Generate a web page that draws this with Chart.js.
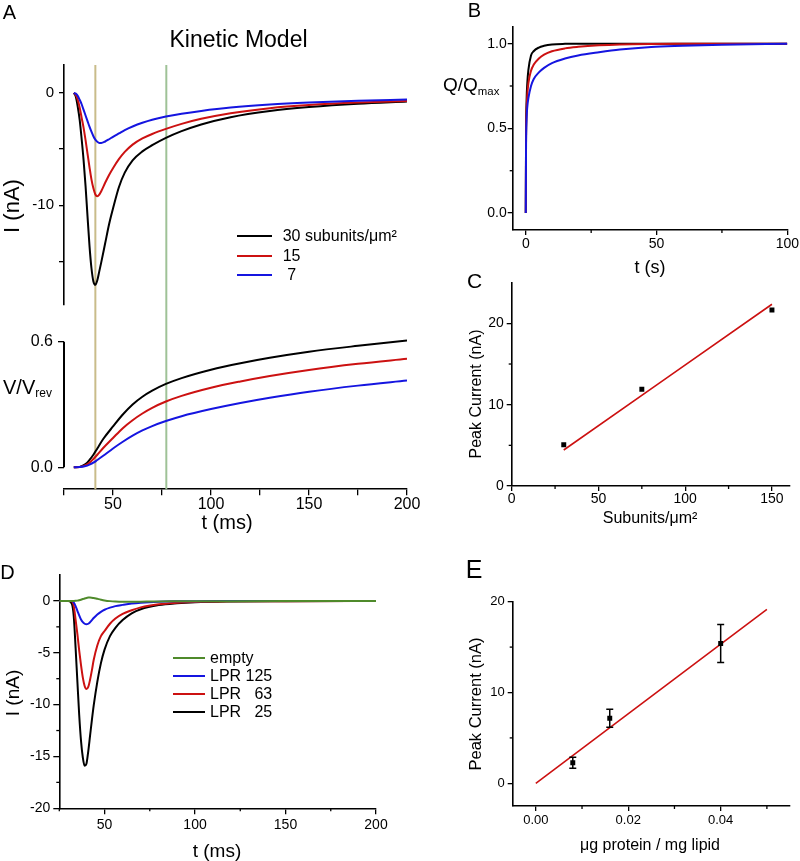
<!DOCTYPE html>
<html><head><meta charset="utf-8">
<script src="https://cdn.jsdelivr.net/npm/chart.js@4.4.0/dist/chart.umd.min.js"></script>
<style>
body{margin:0;width:800px;height:861px;position:relative;background:#fff;font-family:"Liberation Sans",Arial,sans-serif;overflow:hidden}
canvas{position:absolute;left:0;top:0}
.t{position:absolute;white-space:pre;color:#000;line-height:1;transform:translate(-50%,-50%)}
.l{position:absolute;white-space:pre;color:#000;line-height:1;transform:translateY(-50%)}
.r{position:absolute;white-space:pre;color:#000;line-height:1;transform:translate(-50%,-50%) rotate(-90deg)}
.sw{position:absolute;height:2px}
sub{font-size:0.6em;vertical-align:-0.3em}
</style></head><body>
<canvas id="cA1" width="800" height="861"></canvas>
<canvas id="cA2" width="800" height="861"></canvas>
<canvas id="cB" width="800" height="861"></canvas>
<canvas id="cC" width="800" height="861"></canvas>
<canvas id="cD" width="800" height="861"></canvas>
<canvas id="cE" width="800" height="861"></canvas>

<div class="t" style="left:9.5px;top:11.5px;font-size:20px">A</div>
<div class="t" style="left:474.5px;top:10px;font-size:20px">B</div>
<div class="t" style="left:474.5px;top:280px;font-size:21px">C</div>
<div class="t" style="left:7.5px;top:572px;font-size:20px">D</div>
<div class="t" style="left:474px;top:569px;font-size:25px">E</div>

<div class="t" style="left:238.5px;top:39px;font-size:23px">Kinetic Model</div>
<div class="r" style="left:12px;top:206px;font-size:22px">I (nA)</div>
<div class="l" style="left:3px;top:388px;font-size:20px">V/V<sub>rev</sub></div>
<div class="t" style="left:227px;top:522px;font-size:20px">t (ms)</div>

<div class="sw" style="left:237px;top:235px;width:35px;background:#000"></div>
<div class="sw" style="left:237px;top:255px;width:35px;background:#cc1111"></div>
<div class="sw" style="left:237px;top:274px;width:35px;background:#1515e0"></div>
<div class="l" style="left:282.7px;top:236px;font-size:16px">30 subunits/μm²</div>
<div class="l" style="left:282.7px;top:256px;font-size:16px">15</div>
<div class="l" style="left:282.7px;top:275px;font-size:16px"> 7</div>

<div class="l" style="left:443px;top:86px;font-size:19px">Q/Q<sub>max</sub></div>
<div class="t" style="left:650px;top:267px;font-size:18px">t (s)</div>

<div class="r" style="left:475.5px;top:394px;font-size:16px">Peak Current (nA)</div>
<div class="t" style="left:650px;top:518px;font-size:16px">Subunits/μm²</div>

<div class="r" style="left:12px;top:693px;font-size:19px">I (nA)</div>
<div class="t" style="left:217px;top:850px;font-size:19px">t (ms)</div>
<div class="sw" style="left:173px;top:657px;width:32px;background:#4f8a2b"></div>
<div class="sw" style="left:173px;top:675px;width:32px;background:#1515e0"></div>
<div class="sw" style="left:173px;top:693px;width:32px;background:#cc1111"></div>
<div class="sw" style="left:173px;top:711px;width:32px;background:#000"></div>
<div class="l" style="left:210px;top:658px;font-size:16px">empty</div>
<div class="l" style="left:210px;top:676px;font-size:16px">LPR 125</div>
<div class="l" style="left:210px;top:694px;font-size:16px">LPR   63</div>
<div class="l" style="left:210px;top:712px;font-size:16px">LPR   25</div>

<div class="r" style="left:475px;top:704px;font-size:16.5px">Peak Current (nA)</div>
<div class="t" style="left:650px;top:845px;font-size:16px">μg protein / mg lipid</div>

<script>
// ---------- DATA ----------
// Panel A (top): current I (nA) vs t (ms)
const tA = [30,31,32,33,34,35,36,37,38,39,40,41,42,43,44,46,48,50,53,56,60,65,70,77,85,95,110,130,150,175,200];
const aI30 = [0,-0.3,-1.2,-2.4,-4.1,-6.0,-8.3,-11.0,-13.6,-15.6,-16.8,-17.1,-16.7,-15.9,-15.1,-13.4,-11.7,-10.3,-8.4,-7.1,-6.0,-5.2,-4.65,-4.0,-3.4,-2.8,-2.15,-1.6,-1.25,-0.95,-0.76];
const aI15 = [0,-0.15,-0.6,-1.3,-2.2,-3.1,-4.2,-5.4,-6.6,-7.7,-8.5,-9.05,-9.2,-9.05,-8.75,-8.0,-7.3,-6.7,-5.9,-5.25,-4.6,-4.05,-3.65,-3.2,-2.75,-2.3,-1.8,-1.35,-1.07,-0.85,-0.71];
const aI7  = [0,-0.05,-0.25,-0.6,-1.0,-1.5,-2.0,-2.5,-3.0,-3.45,-3.85,-4.15,-4.35,-4.45,-4.45,-4.32,-4.12,-3.9,-3.6,-3.3,-2.98,-2.65,-2.38,-2.1,-1.85,-1.6,-1.3,-1.03,-0.85,-0.69,-0.58];
// Panel A (bottom): V/Vrev vs t (ms)
const tV = [30,33,36,38,40,42,45,50,55,60,65,70,77,85,100,115,130,150,175,200];
const aV30 = [0,0.002,0.015,0.035,0.06,0.09,0.135,0.195,0.252,0.30,0.337,0.366,0.398,0.426,0.466,0.497,0.523,0.552,0.58,0.605];
const aV15 = [0,0.001,0.01,0.022,0.04,0.06,0.092,0.14,0.187,0.225,0.257,0.284,0.314,0.341,0.38,0.41,0.436,0.465,0.494,0.518];
const aV7  = [0,0.001,0.006,0.013,0.022,0.035,0.055,0.09,0.122,0.151,0.176,0.197,0.221,0.244,0.278,0.307,0.332,0.361,0.39,0.414];
const markerT = [41, 77.2];
// Panel B: Q/Qmax vs t (s)
const tB = [0,0.1,0.3,0.6,1,2,3,5,7,10,15,20,28,36,48,60,75,100];
const bQ30 = [0,0.45,0.66,0.77,0.845,0.93,0.955,0.977,0.987,0.995,0.999,1,1,1,1,1,1,1];
const bQ15 = [0,0.42,0.6,0.7,0.767,0.84,0.875,0.912,0.935,0.955,0.972,0.981,0.99,0.995,0.998,0.999,1,1];
const bQ7  = [0,0.38,0.55,0.63,0.678,0.75,0.79,0.83,0.857,0.885,0.912,0.93,0.949,0.965,0.98,0.987,0.994,1];
// Panel C: peak current vs subunit density
const cX = [30,75,150];
const cY = [5.08,11.9,21.65];
const cFitX = [30,150];
const cFitY = [4.43,22.35];
// Panel D: measured current traces
const tD = [25,30,32,33,34,35,36,37,38,39,40,41,42,43,44,46,48,50,53,56,60,65,70,80,90,100,120,150,200];
const dEmpty = [0,0,0,0,0.01,0.03,0.07,0.12,0.18,0.24,0.29,0.32,0.33,0.31,0.28,0.2,0.12,0.05,-0.02,-0.06,-0.08,-0.08,-0.07,-0.05,-0.04,-0.03,-0.02,-0.01,0];
const d125 = [0,0,-0.02,-0.15,-0.5,-0.95,-1.4,-1.8,-2.05,-2.2,-2.26,-2.2,-2.05,-1.85,-1.65,-1.3,-1.05,-0.85,-0.65,-0.5,-0.38,-0.25,-0.17,-0.08,-0.04,-0.02,-0.01,0,0];
const d63 = [0,0,-0.05,-0.5,-1.8,-3.2,-4.8,-6.2,-7.4,-8.2,-8.5,-8.3,-7.6,-6.7,-5.7,-4.3,-3.4,-2.9,-2.2,-1.7,-1.25,-0.9,-0.62,-0.32,-0.18,-0.1,-0.04,-0.02,0];
const d25 = [0,0,-0.3,-1.5,-4.5,-7.8,-11.0,-13.5,-15.1,-15.9,-15.7,-14.5,-13.0,-11.5,-10.1,-7.8,-6.0,-4.7,-3.4,-2.6,-1.85,-1.2,-0.8,-0.4,-0.22,-0.12,-0.05,-0.02,0];
// Panel E: peak current vs protein/lipid
const eX = [0.008,0.016,0.04];
const eY = [2.26,7.16,15.4];
const eErr = [0.6,1.0,2.1];
const eFitX = [0,0.05];
const eFitY = [0,19.15];
// Tick values & labels
const tickAx = [25,50,75,100,125,150,175,200];
const tickAxLbl = ['','50','','100','','150','','200'];
const tickA1y = [-15,-10,-5,0];
const tickA1yLbl = ['','-10','','0'];
const tickA2y = [0,0.6];
const tickA2yLbl = ['0.0','0.6'];
const tickBx = [0,25,50,75,100];
const tickBxLbl = ['0','','50','','100'];
const tickBy = [0,0.25,0.5,0.75,1.0];
const tickByLbl = ['0.0','','0.5','','1.0'];
const tickCx = [0,25,50,75,100,125,150];
const tickCxLbl = ['0','','50','','100','','150'];
const tickCy = [0,5,10,15,20];
const tickCyLbl = ['0','','10','','20'];
const tickDy = [-20,-17.5,-15,-12.5,-10,-7.5,-5,-2.5,0];
const tickDyLbl = ['-20','','-15','','-10','','-5','','0'];
const tickEx = [0,0.01,0.02,0.03,0.04,0.05];
const tickExLbl = ['0.00','','0.02','','0.04',''];
const tickEy = [0,5,10,15,20];
const tickEyLbl = ['0','','10','','20'];

// ---------- STYLE / HELPERS ----------
const FONT = '"Liberation Sans", Arial, sans-serif';
const BLACK = '#000000', RED = '#cc1111', BLUE = '#1515e0', GREEN = '#4f8a2b';
const MARK_COL = ['#c9bc8a', '#9fc297'];
const W = 800, H = 861;

function pts(xs, ys){ return xs.map((x,i)=>({x:x, y:ys[i]})); }
function curve(xs, ys, col, w){
  return {data:pts(xs,ys), borderColor:col, backgroundColor:col, borderWidth:w||2, showLine:true,
          pointRadius:0, cubicInterpolationMode:'monotone', fill:false};
}
function axis(o, horiz){
  return {
    type:'linear', min:o.min, max:o.max, display:o.display!==false,
    border:{display:o.border!==false, color:'#000', width:1.6},
    grid:{display:true, drawOnChartArea:false, drawTicks:true, tickLength:o.tl||5, color:'#000', lineWidth:1.3,
      tickColor:(ctx)=> (o.minor && !o.labels[ctx.index]) ? 'rgba(0,0,0,0)' : '#000'},
    ticks:{font:{family:FONT,size:o.fs||14}, color:'#000', padding:o.pad===undefined?2:o.pad, maxRotation:0, autoSkip:false,
      callback:(v)=>{const i=o.ticks.findIndex(t=>Math.abs(t-v)<1e-9); return i>=0?o.labels[i]:'';}},
    afterBuildTicks:s=>{s.ticks=o.ticks.map(v=>({value:v}));},
    afterFit:s=>{ if(horiz) s.height=o.size||0; else s.width=o.size||0; }
  };
}
function minorPlugin(xo, yo){
  return {id:'minor', afterDraw(c){
    const ctx=c.ctx; ctx.save(); ctx.strokeStyle='#000'; ctx.lineWidth=1.3;
    if(xo.minor && xo.display!==false){
      const s=c.scales.x;
      xo.ticks.forEach((v,i)=>{ if(!xo.labels[i]){ const p=s.getPixelForValue(v); ctx.beginPath(); ctx.moveTo(p,s.top); ctx.lineTo(p,s.top+xo.minor); ctx.stroke(); }});
    }
    if(yo.minor){
      const s=c.scales.y;
      yo.ticks.forEach((v,i)=>{ if(!yo.labels[i]){ const p=s.getPixelForValue(v); ctx.beginPath(); ctx.moveTo(s.right,p); ctx.lineTo(s.right-yo.minor,p); ctx.stroke(); }});
    }
    ctx.restore();
  }};
}
function mk(id, area, xo, yo, datasets, plugins){
  const yW = yo.display===false?0:yo.size, xH = xo.display===false?0:xo.size;
  return new Chart(document.getElementById(id), {
    type:'scatter',
    data:{datasets:datasets},
    options:{
      responsive:false, animation:false, events:[],
      layout:{autoPadding:false, padding:{left:area.l-yW, top:area.t, right:W-area.r, bottom:H-area.b-xH}},
      plugins:{legend:{display:false}, tooltip:{enabled:false}},
      scales:{x:axis(xo,true), y:axis(yo,false)}
    },
    plugins:(plugins||[]).concat([minorPlugin(xo,yo)])
  });
}
const vlines = {id:'vlines', beforeDatasetsDraw(c){
  const x=c.scales.x, a=c.chartArea, ctx=c.ctx;
  markerT.forEach((t,i)=>{
    const px=x.getPixelForValue(t);
    ctx.save(); ctx.strokeStyle=MARK_COL[i]; ctx.lineWidth=2;
    ctx.beginPath(); ctx.moveTo(px,a.top); ctx.lineTo(px,a.bottom); ctx.stroke(); ctx.restore();
  });
}};
const partialY = {id:'partialY', afterDraw(c){
  const y=c.scales.y, ctx=c.ctx, px=y.right;
  ctx.save(); ctx.strokeStyle='#000'; ctx.lineWidth=2;
  ctx.beginPath(); ctx.moveTo(px, y.getPixelForValue(tickA2y[0])); ctx.lineTo(px, y.getPixelForValue(tickA2y[tickA2y.length-1])); ctx.stroke();
  ctx.restore();
}};
const errBars = {id:'errBars', afterDatasetsDraw(c){
  const x=c.scales.x, y=c.scales.y, ctx=c.ctx;
  ctx.save(); ctx.strokeStyle='#000'; ctx.lineWidth=1.5;
  eX.forEach((v,i)=>{
    const px=x.getPixelForValue(v), y1=y.getPixelForValue(eY[i]-eErr[i]), y2=y.getPixelForValue(eY[i]+eErr[i]);
    ctx.beginPath(); ctx.moveTo(px,y1); ctx.lineTo(px,y2);
    ctx.moveTo(px-3.5,y1); ctx.lineTo(px+3.5,y1); ctx.moveTo(px-3.5,y2); ctx.lineTo(px+3.5,y2); ctx.stroke();
  });
  ctx.restore();
}};
function sq(xs, ys){ return {data:pts(xs,ys), showLine:false, pointStyle:'rect', pointRadius:3.5, backgroundColor:'#000', borderColor:'#000', borderWidth:0}; }

// ---------- CHARTS ----------
// A top
mk('cA1', {l:64,t:65,r:407,b:305},
  {min:25,max:200,ticks:tickAx,labels:tickAxLbl,display:false},
  {min:-18.9,max:2.5,ticks:tickA1y,labels:tickA1yLbl,fs:15,tl:5,pad:5,size:50},
  [curve(tA,aI7,BLUE), curve(tA,aI15,RED), curve(tA,aI30,BLACK)], [vlines]);
// A bottom
mk('cA2', {l:64,t:305,r:407,b:489.3},
  {min:25,max:200,ticks:tickAx,labels:tickAxLbl,fs:16,tl:6,pad:0,size:30},
  {min:-0.105,max:0.775,ticks:tickA2y,labels:tickA2yLbl,fs:16,tl:6,pad:5,size:50,border:false},
  [curve(tV,aV7,BLUE), curve(tV,aV15,RED), curve(tV,aV30,BLACK)], [vlines, partialY]);
// B
mk('cB', {l:512.7,t:26.7,r:789.3,b:230},
  {min:-5,max:100,ticks:tickBx,labels:tickBxLbl,fs:14,tl:5,pad:1,size:30,minor:3},
  {min:-0.1,max:1.1,ticks:tickBy,labels:tickByLbl,fs:14,tl:5,pad:1,size:45,minor:3},
  [curve(tB,bQ7,BLUE), curve(tB,bQ15,RED), curve(tB,bQ30,BLACK)]);
// C
mk('cC', {l:511.7,t:282.7,r:789.3,b:486},
  {min:0,max:160,ticks:tickCx,labels:tickCxLbl,fs:14,tl:5,pad:0,size:30,minor:3},
  {min:0,max:25,ticks:tickCy,labels:tickCyLbl,fs:14,tl:5,pad:3,size:45,minor:3},
  [sq(cX,cY), curve(cFitX,cFitY,RED,1.6)]);
// D
mk('cD', {l:59.3,t:575,r:376,b:808.3},
  {min:25,max:200,ticks:tickAx,labels:tickAxLbl,fs:14,tl:6,pad:2,size:30,minor:3},
  {min:-20,max:2.5,ticks:tickDy,labels:tickDyLbl,fs:14,tl:6,pad:3,size:45,minor:3},
  [curve(tD,dEmpty,GREEN), curve(tD,d125,BLUE), curve(tD,d63,RED), curve(tD,d25,BLACK)]);
// E
mk('cE', {l:512.7,t:601.7,r:790,b:806},
  {min:-0.005,max:0.055,ticks:tickEx,labels:tickExLbl,fs:13,tl:5,pad:2,size:30,minor:3},
  {min:-2.5,max:20,ticks:tickEy,labels:tickEyLbl,fs:13,tl:5,pad:3,size:45,minor:3},
  [sq(eX,eY), curve(eFitX,eFitY,RED,1.6)], [errBars]);
</script>
</body></html>
